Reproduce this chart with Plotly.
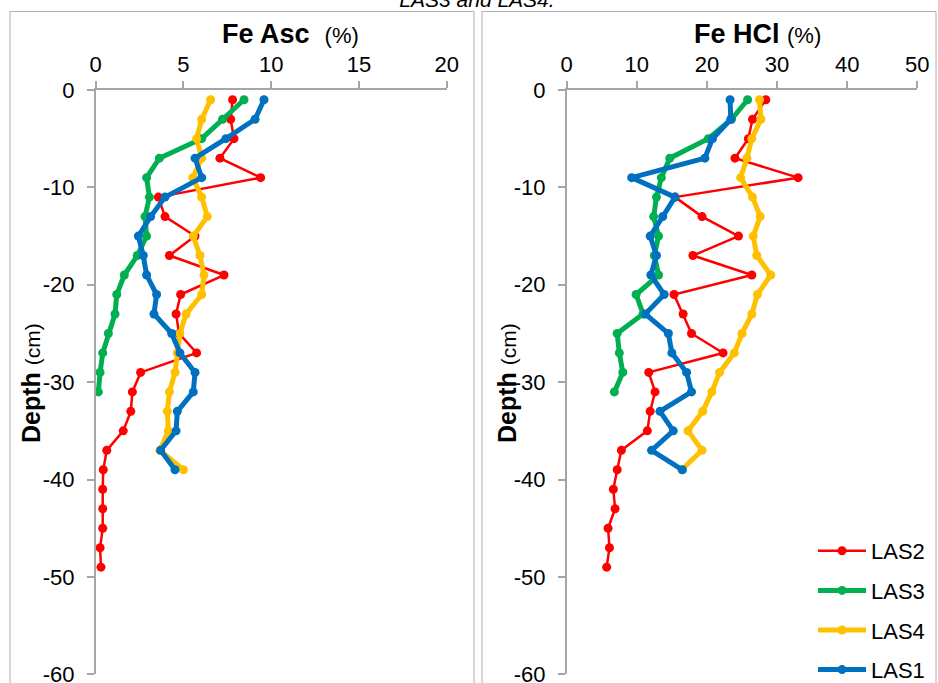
import plotly.graph_objects as go

# ---- data ----
depth_las2 = [-1, -3, -5, -7, -9, -11, -13, -15, -17, -19, -21, -23, -25, -27, -29,
              -31, -33, -35, -37, -39, -41, -43, -45, -47, -49]
depth_las3 = [-1, -3, -5, -7, -9, -11, -13, -15, -17, -19, -21, -23, -25, -27, -29, -31]
depth_las4 = [-1, -3, -5, -7, -9, -11, -13, -15, -17, -19, -21, -23, -25, -27, -29,
              -31, -33, -35, -37, -39]
depth_las1 = [-1, -3, -5, -7, -9, -11, -13, -15, -17, -19, -21, -23, -25, -27, -29,
              -31, -33, -35, -37, -39]

asc_las2 = [7.8, 7.69, 7.88, 7.08, 9.4, 3.57, 3.95, 5.66, 4.2, 7.31, 4.84, 4.58, 4.75,
            5.75, 2.56, 2.09, 2.0, 1.57, 0.63, 0.43, 0.4, 0.4, 0.4, 0.25, 0.3]
asc_las3 = [8.45, 7.23, 6.04, 3.63, 2.9, 3.06, 2.81, 2.9, 2.37, 1.63, 1.2, 1.1, 0.72,
            0.4, 0.25, 0.15]
asc_las4 = [6.55, 6.04, 5.75, 6.04, 5.53, 6.04, 6.36, 5.56, 5.94, 6.17, 6.04, 5.15, 4.8,
            4.65, 4.52, 4.2, 4.08, 4.14, 3.66, 5.0]
asc_las1 = [9.59, 9.08, 7.42, 5.66, 6.04, 3.95, 3.13, 2.43, 2.71, 2.9, 3.47, 3.32, 4.33,
            4.8, 5.66, 5.56, 4.65, 4.58, 3.7, 4.52]

hcl_las2 = [28.4, 26.5, 25.9, 24.0, 33.0, 15.45, 19.3, 24.5, 18.0, 26.4, 15.3, 16.6, 17.8,
            22.3, 11.7, 12.6, 11.9, 11.5, 7.8, 7.2, 6.65, 6.9, 5.9, 6.1, 5.7]
hcl_las3 = [25.8, 23.5, 20.2, 14.7, 13.5, 12.8, 12.4, 13.1, 12.5, 13.1, 9.9, 10.9, 7.2,
            7.5, 8.0, 6.8]
hcl_las4 = [27.5, 27.7, 26.4, 25.7, 24.8, 26.5, 27.6, 26.6, 27.1, 29.1, 27.2, 26.4, 25.0,
            23.9, 21.8, 20.7, 19.4, 17.3, 19.3, 16.4]
hcl_las1 = [23.3, 23.4, 20.8, 19.7, 9.27, 15.45, 13.7, 11.9, 12.8, 12.0, 13.9, 11.2, 14.5,
            15.0, 17.1, 17.8, 13.3, 15.2, 12.1, 16.5]

series_names = ["LAS2", "LAS3", "LAS4", "LAS1"]
asc_tick_vals = [0, 5, 10, 15, 20]
hcl_tick_vals = [0, 10, 20, 30, 40, 50]
depth_tick_vals = [0, -10, -20, -30, -40, -50, -60]
depth_tick_text = ["0", "-10", "-20", "-30", "-40", "-50", "-60"]

# ---- styling ----
colors = {"LAS2": "#FF0000", "LAS3": "#00B050", "LAS4": "#FFC000", "LAS1": "#0070C0"}
widths = {"LAS2": 2.5, "LAS3": 5, "LAS4": 5, "LAS1": 5}
FONT = "Arial, Liberation Sans, sans-serif"
W, H = 938, 683
AXC = "#A6A6A6"

asc_data = {"LAS2": (asc_las2, depth_las2), "LAS3": (asc_las3, depth_las3),
            "LAS4": (asc_las4, depth_las4), "LAS1": (asc_las1, depth_las1)}
hcl_data = {"LAS2": (hcl_las2, depth_las2), "LAS3": (hcl_las3, depth_las3),
            "LAS4": (hcl_las4, depth_las4), "LAS1": (hcl_las1, depth_las1)}

fig = go.Figure()
for name in series_names:
    x, y = asc_data[name]
    fig.add_trace(go.Scatter(x=x, y=y, mode="lines+markers", name=name,
                             legendgroup=name, showlegend=False,
                             line=dict(color=colors[name], width=widths[name]),
                             marker=dict(color=colors[name], size=9),
                             xaxis="x", yaxis="y"))
for name in series_names:
    x, y = hcl_data[name]
    fig.add_trace(go.Scatter(x=x, y=y, mode="lines+markers", name=name,
                             legendgroup=name, showlegend=True,
                             line=dict(color=colors[name], width=widths[name]),
                             marker=dict(color=colors[name], size=9),
                             xaxis="x2", yaxis="y2"))

def px_x(p):
    return p / W

def px_y(p):
    return 1 - p / H

ydom = [px_y(674.3), px_y(90)]
common_x = dict(side="top", showline=True, linecolor=AXC, linewidth=1.5,
                ticks="outside", ticklen=7, tickcolor=AXC, tickwidth=1.5,
                showgrid=False, zeroline=False, automargin=False,
                ticklabeloverflow="allow",
                tickfont=dict(family=FONT, size=22, color="#000000"))
common_y = dict(showline=True, linecolor=AXC, linewidth=1.5, range=[-60, 0],
                tickvals=depth_tick_vals, ticktext=depth_tick_text,
                ticks="outside", ticklen=7, tickcolor=AXC, automargin=False,
                tickwidth=1.5, showgrid=False, zeroline=False, domain=ydom,
                ticklabelstandoff=8, ticklabeloverflow="allow",
                tickfont=dict(family=FONT, size=22, color="#000000"))

fig.update_layout(
    width=W, height=H,
    margin=dict(l=0, r=0, t=0, b=0, autoexpand=False),
    paper_bgcolor="white", plot_bgcolor="white",
    font=dict(family=FONT, color="#000000"),
    title=dict(text="<i>LAS3 and LAS4.</i>", xref="container", yref="container",
               x=px_x(477), y=1, xanchor="center", yanchor="middle",
               font=dict(family=FONT, size=21, color="#000000")),
    xaxis=dict(common_x, domain=[px_x(95.7), px_x(446.7)], range=[0, 20],
               tickvals=asc_tick_vals, anchor="y"),
    yaxis=dict(common_y, anchor="x"),
    xaxis2=dict(common_x, domain=[px_x(566.7), px_x(917.3)], range=[0, 50],
                tickvals=hcl_tick_vals, anchor="y2"),
    yaxis2=dict(common_y, anchor="x2"),
    legend=dict(xref="container", yref="container",
                x=px_x(813), y=px_y(530), xanchor="left", yanchor="top",
                traceorder="grouped", tracegroupgap=8, itemwidth=48,
                font=dict(family=FONT, size=22, color="#000000"),
                bgcolor="rgba(0,0,0,0)"),
    shapes=[
        dict(type="rect", xref="paper", yref="paper", x0=px_x(10), x1=px_x(474),
             y0=-0.1, y1=px_y(11.5), line=dict(color="#B0B0B0", width=1)),
        dict(type="rect", xref="paper", yref="paper", x0=px_x(482), x1=px_x(936),
             y0=-0.1, y1=px_y(11.5), line=dict(color="#B0B0B0", width=1)),
    ],
    annotations=[
        dict(text="<b>Fe Asc</b>  <span style='font-size:22px'>(%)</span>",
             xref="paper", yref="paper", x=px_x(290), y=px_y(34),
             xanchor="center", yanchor="middle", showarrow=False,
             font=dict(family=FONT, size=27)),
        dict(text="<b>Fe HCl</b> <span style='font-size:22px'>(%)</span>",
             xref="paper", yref="paper", x=px_x(757.5), y=px_y(34),
             xanchor="center", yanchor="middle", showarrow=False,
             font=dict(family=FONT, size=27)),
        dict(text="<b>Depth</b> <span style='font-size:21px'>(cm)</span>",
             xref="paper", yref="paper", x=px_x(31), y=px_y(383),
             xanchor="center", yanchor="middle", textangle=-90, showarrow=False,
             font=dict(family=FONT, size=25)),
        dict(text="<b>Depth</b> <span style='font-size:21px'>(cm)</span>",
             xref="paper", yref="paper", x=px_x(507), y=px_y(383),
             xanchor="center", yanchor="middle", textangle=-90, showarrow=False,
             font=dict(family=FONT, size=25)),
    ],
)

# the page's default 8px body margin would shift the figure; remove it
fig.write_html("out.html", config={"displayModeBar": False},
               post_script="document.body.style.margin='0';")
